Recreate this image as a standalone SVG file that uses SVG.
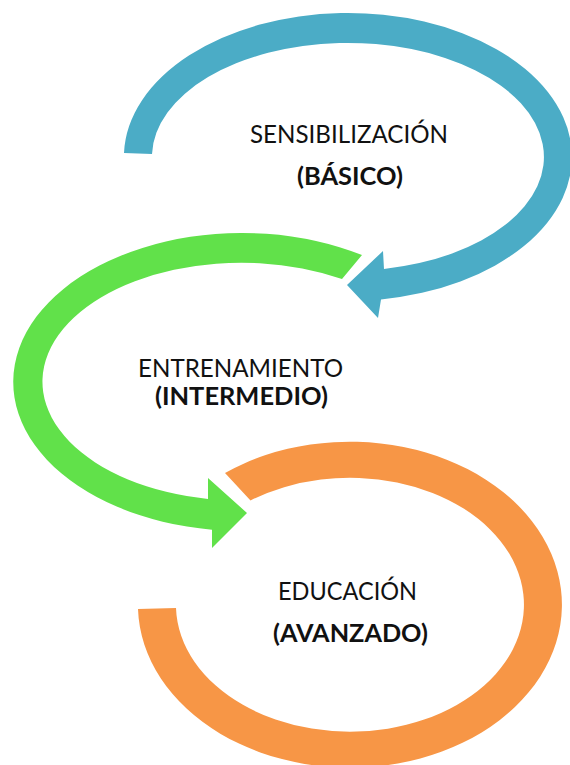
<svg xmlns="http://www.w3.org/2000/svg" width="570" height="765" viewBox="0 0 570 765">
  <style>
    .lbl { font-family: Lato, "Open Sans", "Liberation Sans", sans-serif; font-size: 25px; fill: #111111; text-anchor: middle; }
    .b { font-weight: bold; }
    .blue { fill: #4BACC6; }
    .green { fill: #61E14A; }
    .orange { fill: #F79646; }
  </style>
  <rect width="570" height="765" fill="#ffffff"/>
  <g id="sensibilizacion">
    <path class="blue" d="M 124,153 A 224 144 0 1 1 381,299.4 L 378,318 L 347,285 L 383,251 L 384,269 A 196 114 0 1 0 152,154 Z"/>
    <text class="lbl" x="349" y="143" textLength="198" lengthAdjust="spacingAndGlyphs">SENSIBILIZACIÓN</text>
    <text class="lbl b" x="350" y="185" textLength="106" lengthAdjust="spacingAndGlyphs">(BÁSICO)</text>
  </g>
  <g id="entrenamiento">
    <path class="green" d="M 362,255 A 229 149 0 1 0 212,529.7 L 212,548 L 247,513 L 208,478 L 208,499 A 199 119 0 1 1 342,279 Z"/>
    <text class="lbl" x="240.5" y="377" textLength="205" lengthAdjust="spacingAndGlyphs">ENTRENAMIENTO</text>
    <text class="lbl b" x="241.5" y="405" textLength="173" lengthAdjust="spacingAndGlyphs">(INTERMEDIO)</text>
  </g>
  <g id="educacion">
    <path class="orange" d="M 225,473 A 212 163 0 1 1 138,609 L 176,608 A 174 127 0 1 0 250.5,500.5 Z"/>
    <text class="lbl" x="347.5" y="600" textLength="139" lengthAdjust="spacingAndGlyphs">EDUCACIÓN</text>
    <text class="lbl b" x="350.5" y="642" textLength="155" lengthAdjust="spacingAndGlyphs">(AVANZADO)</text>
  </g>
  <g id="connectors"></g>
</svg>
